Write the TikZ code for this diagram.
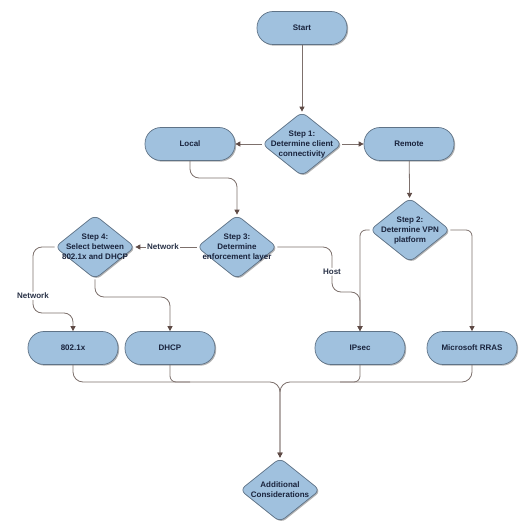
\documentclass[tikz,border=0pt]{standalone}
\usepackage{fontspec}
\setmainfont{Liberation Sans}
\usetikzlibrary{shapes.geometric,arrows.meta,shadows}
\definecolor{boxfill}{RGB}{160,193,222}
\definecolor{boxline}{RGB}{95,115,135}
\definecolor{txt}{RGB}{25,35,60}
\definecolor{conn}{RGB}{125,112,108}
\definecolor{tipc}{RGB}{95,75,70}
\newcommand{\dtxt}[1]{\makebox[0pt]{\smash{\raisebox{-2.5pt}{$\vcenter{\hbox{\begin{tabular}{@{}c@{}}#1\end{tabular}}}$}}}}
\tikzset{
  base/.style={draw=boxline, fill=boxfill, line width=0.7pt, text=txt,
    font=\bfseries\fontsize{8}{10}\selectfont,
    drop shadow={shadow xshift=1.2pt, shadow yshift=-1.2pt, opacity=0.3, fill=black}},
  pill/.style={base, rectangle, rounded corners=16pt, minimum width=90pt, minimum height=33pt, inner sep=0pt},
  dia/.style={base, diamond, rounded corners=6pt, minimum width=80pt, minimum height=64pt, inner sep=0pt},
  conn/.style={draw=conn, line width=0.8pt},
  arr/.style={conn, -{Triangle[length=5pt,width=5pt,color=tipc]}},
  lbl/.style={fill=white, inner sep=1pt, text=txt!85!gray, font=\bfseries\fontsize{8}{10}\selectfont}
}
\begin{document}
\begin{tikzpicture}[x=1pt,y=-1pt]
\useasboundingbox (0,0) rectangle (528,524);
% nodes
\node[pill] (start) at (302,28) {Start};
\node[dia] (s1) at (302,144) {\dtxt{Step 1:\\Determine client\\connectivity}};
\node[pill] (local) at (190,144) {Local};
\node[pill] (remote) at (409,144) {Remote};
\node[dia] (s2) at (410,230) {\dtxt{Step 2:\\Determine VPN\\platform}};
\node[dia] (s3) at (237,247) {\dtxt{Step 3:\\Determine\\enforcement layer}};
\node[dia] (s4) at (95,247) {\dtxt{Step 4:\\Select between\\802.1x and DHCP}};
\node[pill] (x1) at (73,348) {802.1x};
\node[pill] (dhcp) at (170,348) {DHCP};
\node[pill] (ipsec) at (360,348) {IPsec};
\node[pill] (rras) at (472,348) {Microsoft RRAS};
\node[dia] (add) at (280,490) {\dtxt{Additional\\Considerations}};
% connectors
\draw[arr] (start) -- (s1);
\draw[arr] (s1.west) -- (local.east);
\draw[arr] (s1.east) -- (remote.west);
\draw[arr] (remote) -- (s2);
\draw[arr, rounded corners=9pt] (local.south) |- (237,178) -- (s3.north);
\draw[arr, rounded corners=6pt] (s2.west) -| (ipsec.north);
\draw[arr, rounded corners=6pt] (s2.east) -| (rras.north);
\draw[arr, rounded corners=9pt] (s3.east) -- (332,247) -- node[lbl, pos=0.55]{Host} (332,292) -- (360,292) -- (ipsec.north);
\draw[arr] (s3.west) -- node[lbl, pos=0.55]{Network} (s4.east);
\draw[arr, rounded corners=9pt] (s4.west) -- (33,247) -- node[lbl, pos=0.74]{Network} (33,313) -- (73,313) -- (x1.north);
\draw[arr, rounded corners=9pt] (s4.south) -- (95,297) -- (170,297) -- (dhcp.north);
\draw[arr, rounded corners=10pt] (x1.south) |- (280,382) -- (add.north);
\draw[arr, rounded corners=10pt] (rras.south) |- (280,382) -- (add.north);
\draw[conn, rounded corners=6pt] (dhcp.south) |- (190,382);
\draw[conn, rounded corners=6pt] (ipsec.south) |- (340,382);
\end{tikzpicture}
\end{document}
